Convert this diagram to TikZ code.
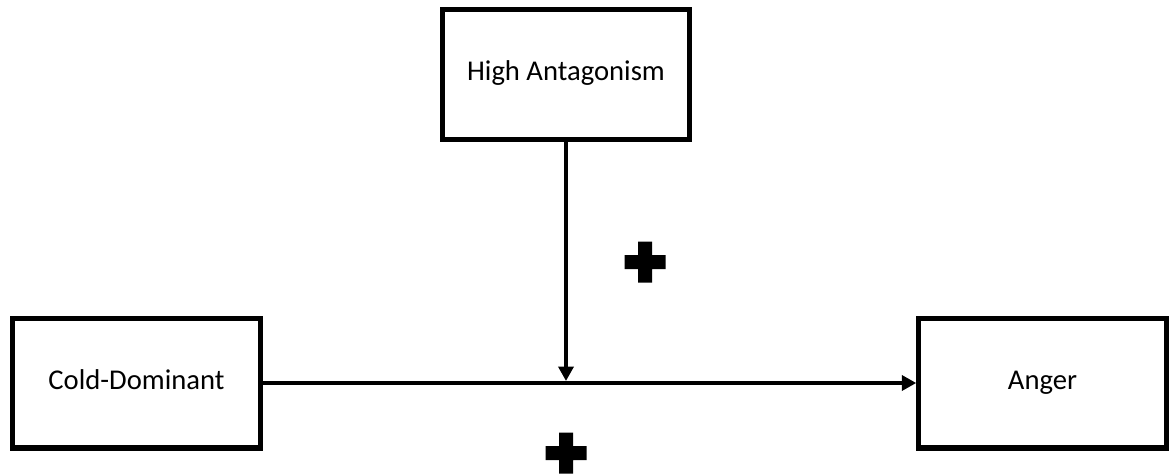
\documentclass[tikz,border=0pt]{standalone}
\usepackage{fontspec}
\setmainfont{Carlito}
\usetikzlibrary{arrows.meta}

\begin{document}
\begin{tikzpicture}[x=0.02cm, y=-0.02cm, every node/.style={draw, line width=2.85pt, minimum width=4.95cm, minimum height=2.6cm, inner sep=0pt, text height=2ex, text depth=0.5ex, font=\fontsize{16.3}{20}\selectfont}]
	\tikzset{link/.style={line width=2.3pt, -{Triangle[length=0.29cm, width=0.3cm]}}}
	\useasboundingbox (0,0) rectangle (1169,474);
	\node (ha)  at (566,74.5)  {High Antagonism};
	\node (cd)  at (136.5,383) {Cold-Dominant};
	\node (ang) at (1042.5,383) {Anger};
	\coordinate (mid) at (ha.south |- cd.east);
	\draw[link] (cd) -- (ang);
	\draw[link, shorten >=0.04cm] (ha) -- (mid);
	\foreach \p in {(645,262), (566,453)}
	\fill[shift={\p}] (-7,-20.5) rectangle (7,20.5) (-20.5,-7) rectangle (20.5,7);
	\end{tikzpicture}
\end{document}
